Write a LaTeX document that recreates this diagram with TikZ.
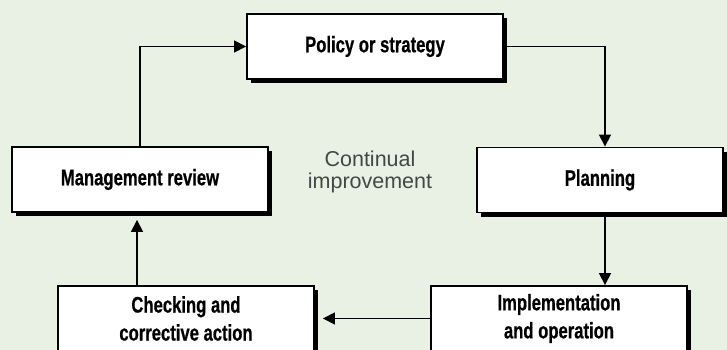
\documentclass[tikz,border=0pt]{standalone}
\usepackage{fontspec}
\setmainfont{Liberation Sans}
\newfontfamily\boxfont[FakeStretch=0.74,FakeBold=0.6]{Liberation Sans}
\usetikzlibrary{arrows.meta,shadows}
\definecolor{bgcol}{RGB}{233,241,229}
\definecolor{notecol}{RGB}{70,70,70}
\tikzset{
  stage/.style={draw=black, line width=1.9pt, fill=white,
    minimum width=256pt, minimum height=65pt, inner sep=0pt,
    align=center, font=\boxfont\bfseries\fontsize{22.5}{28}\selectfont,
    drop shadow={shadow xshift=4pt, shadow yshift=-4pt, fill=black, opacity=1}},
  flow/.style={line width=1.6pt, -{Triangle[length=12pt,width=12pt]}},
}
\begin{document}
\begin{tikzpicture}[x=1pt,y=-1pt]
  \fill[bgcol] (0,0) rectangle (727,350);
  \useasboundingbox (0,0) rectangle (727,350);

  \node[stage] (policy) at (375,46.5) {Policy or strategy};
  \node[stage, minimum width=246pt] (planning) at (600,180) {Planning};
  \node[stage] (impl) at (559,318.5) {Implementation\\and operation};
  \node[stage] (check) at (186,318.5) {Checking and\\corrective action};
  \node[stage] (review) at (140,179.5) {Management review};

  \node[align=center, text=notecol, font=\fontsize{21.5}{22}\selectfont]
    (note) at (370,172) {Continual\\improvement};

  \coordinate (plx) at ([xshift=5pt]planning.north);
  \coordinate (rvx) at ([xshift=-3pt]review.south);

  \draw[flow] (review.north) |- (policy.west);
  \draw[flow] (policy.east) -| (plx);
  \draw[flow] ([xshift=5pt]planning.south) -- ([xshift=5pt]planning.south |- impl.north);
  \draw[flow, shorten >=8pt] (impl.west) -- (check.east);
  \draw[flow, shorten >=7pt] (rvx |- check.north) -- (rvx);
\end{tikzpicture}
\end{document}
